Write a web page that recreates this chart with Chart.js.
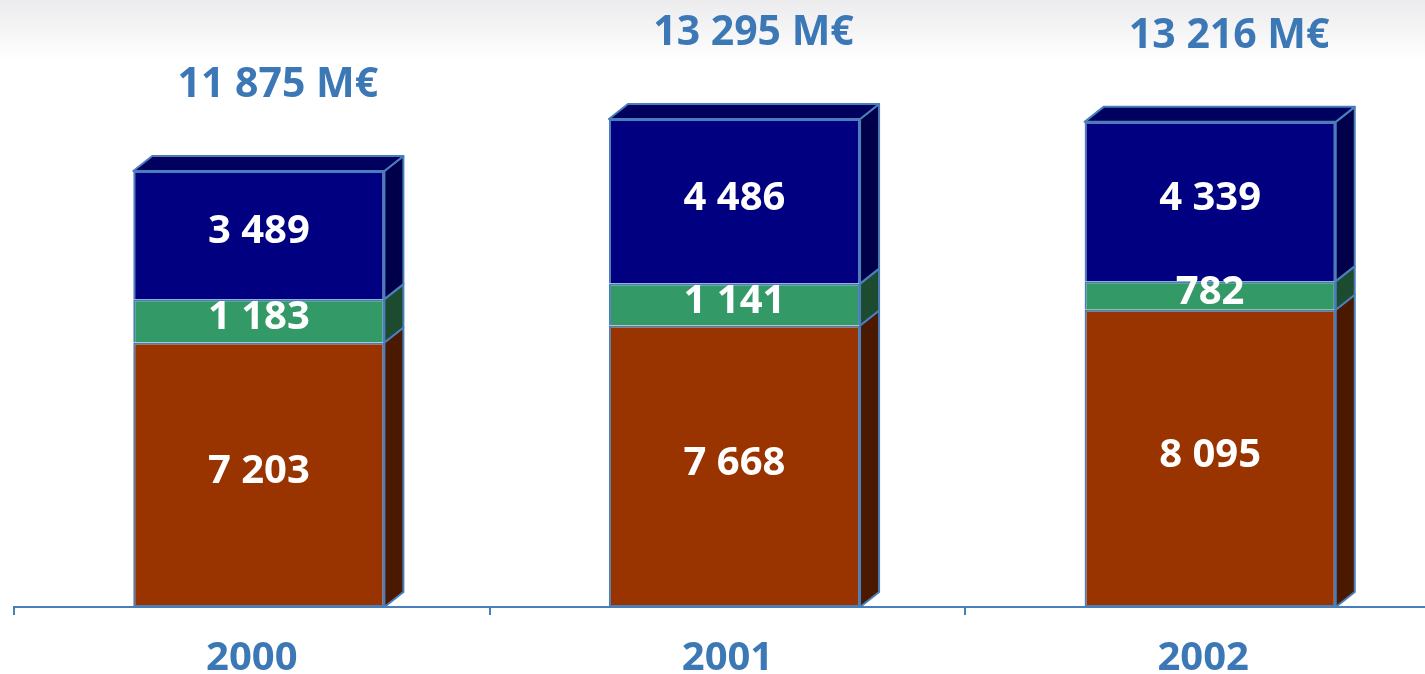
<!DOCTYPE html>
<html><head><meta charset="utf-8">
<script src="https://cdn.jsdelivr.net/npm/chart.js@4"></script>
<style>
html,body{margin:0;padding:0;overflow:hidden;width:1425px;height:674px;
background:linear-gradient(to bottom,#ececee 0px,#f4f4f5 28px,#ffffff 60px);}
#wrap{position:absolute;left:0;top:0;width:1441px;height:674px;}
canvas{display:block;}
</style></head><body>
<div id="wrap"><canvas id="c" width="1441" height="674" style="width:1441px;height:674px"></canvas></div>
<script>
const categories = ['2000', '2001', '2002'];
const bottomValues = [7203, 7668, 8095];
const middleValues = [1183, 1141, 782];
const topValues = [3489, 4486, 4339];
const totalSuffix = ' M€';

const FONT = '"Open Sans", "Noto Sans", sans-serif';
const BLUE_TEXT = '#3c78b6';
const EDGE = '#4a7ebb';
const DX = 19, DY = 15, SHIFT = 7;
const frontColors = ['#993300', '#339966', '#000080'];
const sideColors = ['#4a1900', '#1d4b30', '#00004a'];
const topFaceColor = '#00005e';

function fmt(n) { return String(n).replace(/\B(?=(\d{3})+(?!\d))/g, ' '); }

const bar3d = {
  id: 'bar3d',
  afterDatasetsUpdate(chart) {
    chart.data.datasets.forEach((ds, i) => {
      chart.getDatasetMeta(i).data.forEach(el => { el.x += SHIFT; });
    });
  },
  afterDatasetsDraw(chart) {
    const ctx = chart.ctx;
    const n = chart.data.datasets.length;
    ctx.save();
    ctx.lineWidth = 2;
    ctx.strokeStyle = EDGE;
    ctx.lineJoin = 'round';
    for (let i = 0; i < n; i++) {
      chart.getDatasetMeta(i).data.forEach(el => {
        const right = el.x + el.width / 2, left = el.x - el.width / 2;
        const top = el.y, bot = el.base;
        ctx.beginPath();
        ctx.moveTo(right, top);
        ctx.lineTo(right + DX, top - DY);
        ctx.lineTo(right + DX, bot - DY);
        ctx.lineTo(right, bot);
        ctx.closePath();
        ctx.fillStyle = sideColors[i];
        ctx.fill();
        ctx.stroke();
        if (i === n - 1) {
          ctx.beginPath();
          ctx.moveTo(left, top);
          ctx.lineTo(left + DX, top - DY);
          ctx.lineTo(right + DX, top - DY);
          ctx.lineTo(right, top);
          ctx.closePath();
          ctx.fillStyle = topFaceColor;
          ctx.fill();
          ctx.stroke();
        }
      });
    }
    // value labels
    ctx.fillStyle = '#ffffff';
    ctx.font = 'bold 40px ' + FONT;
    ctx.textAlign = 'center';
    ctx.textBaseline = 'middle';
    for (let i = 0; i < n; i++) {
      const vals = chart.data.datasets[i].data;
      chart.getDatasetMeta(i).data.forEach((el, j) => {
        ctx.fillText(fmt(vals[j]), el.x, (el.y + el.base) / 2 - 3);
      });
    }
    // totals
    ctx.fillStyle = BLUE_TEXT;
    ctx.font = 'bold 41px ' + FONT;
    ctx.textBaseline = 'alphabetic';
    chart.getDatasetMeta(n - 1).data.forEach((el, j) => {
      const total = bottomValues[j] + middleValues[j] + topValues[j];
      ctx.fillText(fmt(total) + totalSuffix, el.x + 19, el.y - 74);
    });
    ctx.restore();
  }
};

new Chart(document.getElementById('c'), {
  type: 'bar',
  data: {
    labels: categories,
    datasets: [
      { data: bottomValues, backgroundColor: frontColors[0], borderSkipped: false },
      { data: middleValues, backgroundColor: frontColors[1], borderSkipped: 'bottom' },
      { data: topValues, backgroundColor: frontColors[2], borderSkipped: 'bottom' }
    ]
  },
  options: {
    responsive: false,
    devicePixelRatio: 1,
    animation: false,
    layout: { padding: { left: 14, right: 0, top: 0, bottom: 0 } },
    datasets: { bar: { borderColor: EDGE, borderWidth: 2, categoryPercentage: 1, barPercentage: 0.528 } },
    plugins: { legend: { display: false }, tooltip: { enabled: false } },
    scales: {
      x: {
        stacked: true,
        grid: { offset: true, drawOnChartArea: false, drawTicks: true, tickLength: 8, color: EDGE, lineWidth: 2 },
        border: { display: true, color: EDGE, width: 2 },
        ticks: { color: BLUE_TEXT, font: { family: FONT, size: 40, weight: 'bold' }, padding: 20 },
        afterFit(s) { s.height = 67; }
      },
      y: { stacked: true, display: false, min: 0, max: 16535 }
    }
  },
  plugins: [bar3d]
});
</script>
</body></html>
